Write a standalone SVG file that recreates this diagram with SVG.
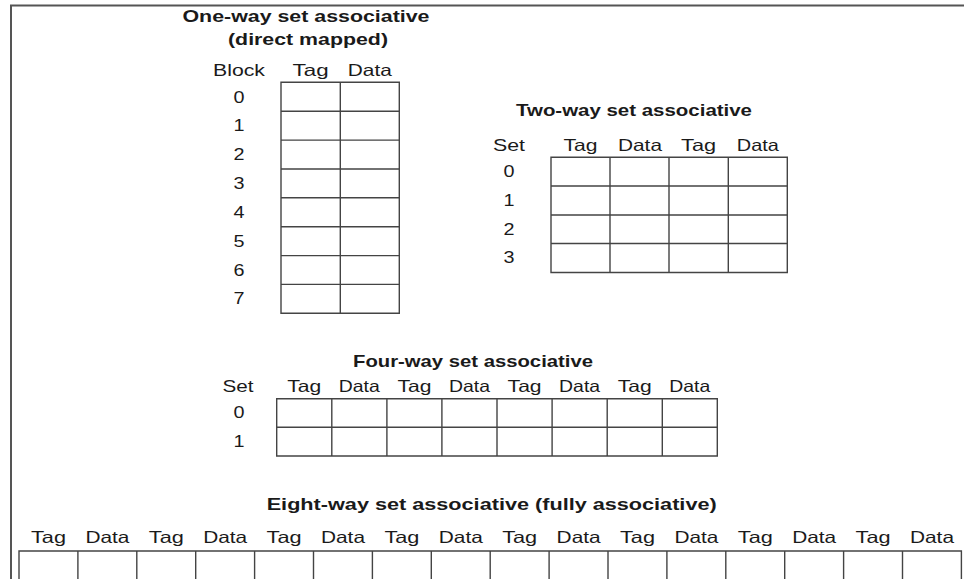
<svg xmlns="http://www.w3.org/2000/svg" width="964" height="579" viewBox="0 0 964 579">
<style>
text{font-family:"Liberation Sans",Arial,sans-serif;font-size:16.5px;fill:#1a1a1a;text-anchor:middle}
.t{font-weight:bold}
.d{font-size:16px}
.g{fill:none;stroke:#444;stroke-width:1.4}
.f{fill:none;stroke:#555;stroke-width:2}
</style>
<rect width="964" height="579" fill="#fff"/>
<g id="frame"><path class="f" d="M11 579V5.5H964"/></g>

<g id="one-way">
<text class="t" x="306" y="21.5" textLength="247" lengthAdjust="spacingAndGlyphs">One-way set associative</text>
<text class="t" x="308" y="45" textLength="160" lengthAdjust="spacingAndGlyphs">(direct mapped)</text>
<text x="239" y="76" textLength="52" lengthAdjust="spacingAndGlyphs">Block</text>
<text x="310.6" y="76" textLength="36" lengthAdjust="spacingAndGlyphs">Tag</text>
<text x="369.8" y="76" textLength="44" lengthAdjust="spacingAndGlyphs">Data</text>
<text class="d" x="239" y="102.5" textLength="11" lengthAdjust="spacingAndGlyphs">0</text>
<text class="d" x="239" y="131.3" textLength="11" lengthAdjust="spacingAndGlyphs">1</text>
<text class="d" x="239" y="160.2" textLength="11" lengthAdjust="spacingAndGlyphs">2</text>
<text class="d" x="239" y="189" textLength="11" lengthAdjust="spacingAndGlyphs">3</text>
<text class="d" x="239" y="217.9" textLength="11" lengthAdjust="spacingAndGlyphs">4</text>
<text class="d" x="239" y="246.7" textLength="11" lengthAdjust="spacingAndGlyphs">5</text>
<text class="d" x="239" y="275.6" textLength="11" lengthAdjust="spacingAndGlyphs">6</text>
<text class="d" x="239" y="304.4" textLength="11" lengthAdjust="spacingAndGlyphs">7</text>
<path class="g" d="M281 82.3H399.3V313.3H281Z M340.3 82.3V313.3 M281 111.2H399.3 M281 140.1H399.3 M281 169H399.3 M281 197.8H399.3 M281 226.7H399.3 M281 255.6H399.3 M281 284.4H399.3"/>
</g>

<g id="two-way">
<text class="t" x="634" y="116" textLength="236" lengthAdjust="spacingAndGlyphs">Two-way set associative</text>
<text x="509" y="150.7" textLength="32" lengthAdjust="spacingAndGlyphs">Set</text>
<text x="580.5" y="150.7" textLength="34" lengthAdjust="spacingAndGlyphs">Tag</text>
<text x="640" y="150.7" textLength="44" lengthAdjust="spacingAndGlyphs">Data</text>
<text x="698.6" y="150.7" textLength="35" lengthAdjust="spacingAndGlyphs">Tag</text>
<text x="757.8" y="150.7" textLength="42" lengthAdjust="spacingAndGlyphs">Data</text>
<text class="d" x="509" y="177.3" textLength="11" lengthAdjust="spacingAndGlyphs">0</text>
<text class="d" x="509" y="206" textLength="11" lengthAdjust="spacingAndGlyphs">1</text>
<text class="d" x="509" y="234.5" textLength="11" lengthAdjust="spacingAndGlyphs">2</text>
<text class="d" x="509" y="263.3" textLength="11" lengthAdjust="spacingAndGlyphs">3</text>
<path class="g" d="M551 157.3H787.3V272.5H551Z M610 157.3V272.5 M669 157.3V272.5 M728.3 157.3V272.5 M551 186H787.3 M551 215H787.3 M551 243.5H787.3"/>
</g>

<g id="four-way">
<text class="t" x="473" y="366.7" textLength="240" lengthAdjust="spacingAndGlyphs">Four-way set associative</text>
<text x="238" y="391.7" textLength="31" lengthAdjust="spacingAndGlyphs">Set</text>
<text x="304.2" y="391.7" textLength="34" lengthAdjust="spacingAndGlyphs">Tag</text>
<text x="359.3" y="391.7" textLength="41" lengthAdjust="spacingAndGlyphs">Data</text>
<text x="414.4" y="391.7" textLength="34" lengthAdjust="spacingAndGlyphs">Tag</text>
<text x="469.5" y="391.7" textLength="41" lengthAdjust="spacingAndGlyphs">Data</text>
<text x="524.6" y="391.7" textLength="34" lengthAdjust="spacingAndGlyphs">Tag</text>
<text x="579.6" y="391.7" textLength="41" lengthAdjust="spacingAndGlyphs">Data</text>
<text x="634.7" y="391.7" textLength="34" lengthAdjust="spacingAndGlyphs">Tag</text>
<text x="689.8" y="391.7" textLength="41" lengthAdjust="spacingAndGlyphs">Data</text>
<text class="d" x="239" y="418" textLength="11" lengthAdjust="spacingAndGlyphs">0</text>
<text class="d" x="239" y="446.7" textLength="11" lengthAdjust="spacingAndGlyphs">1</text>
<path class="g" d="M276.7 398.7H717.3V456H276.7Z M331.8 398.7V456 M386.9 398.7V456 M441.9 398.7V456 M497 398.7V456 M552.1 398.7V456 M607.2 398.7V456 M662.3 398.7V456 M276.7 427.3H717.3"/>
</g>

<g id="eight-way">
<text class="t" x="491.7" y="510" textLength="450" lengthAdjust="spacingAndGlyphs">Eight-way set associative (fully associative)</text>
<text x="48.5" y="543" textLength="35" lengthAdjust="spacingAndGlyphs">Tag</text>
<text x="107.4" y="543" textLength="44" lengthAdjust="spacingAndGlyphs">Data</text>
<text x="166.3" y="543" textLength="35" lengthAdjust="spacingAndGlyphs">Tag</text>
<text x="225.2" y="543" textLength="44" lengthAdjust="spacingAndGlyphs">Data</text>
<text x="284.1" y="543" textLength="35" lengthAdjust="spacingAndGlyphs">Tag</text>
<text x="343" y="543" textLength="44" lengthAdjust="spacingAndGlyphs">Data</text>
<text x="401.9" y="543" textLength="35" lengthAdjust="spacingAndGlyphs">Tag</text>
<text x="460.8" y="543" textLength="44" lengthAdjust="spacingAndGlyphs">Data</text>
<text x="519.7" y="543" textLength="35" lengthAdjust="spacingAndGlyphs">Tag</text>
<text x="578.6" y="543" textLength="44" lengthAdjust="spacingAndGlyphs">Data</text>
<text x="637.5" y="543" textLength="35" lengthAdjust="spacingAndGlyphs">Tag</text>
<text x="696.4" y="543" textLength="44" lengthAdjust="spacingAndGlyphs">Data</text>
<text x="755.3" y="543" textLength="35" lengthAdjust="spacingAndGlyphs">Tag</text>
<text x="814.2" y="543" textLength="44" lengthAdjust="spacingAndGlyphs">Data</text>
<text x="873.1" y="543" textLength="35" lengthAdjust="spacingAndGlyphs">Tag</text>
<text x="932" y="543" textLength="44" lengthAdjust="spacingAndGlyphs">Data</text>
<path class="g" d="M19 580V551H961.4V580 M77.9 551V580 M136.8 551V580 M195.7 551V580 M254.6 551V580 M313.5 551V580 M372.4 551V580 M431.3 551V580 M490.2 551V580 M549.1 551V580 M608 551V580 M666.9 551V580 M725.8 551V580 M784.7 551V580 M843.6 551V580 M902.5 551V580"/>
</g>
</svg>
